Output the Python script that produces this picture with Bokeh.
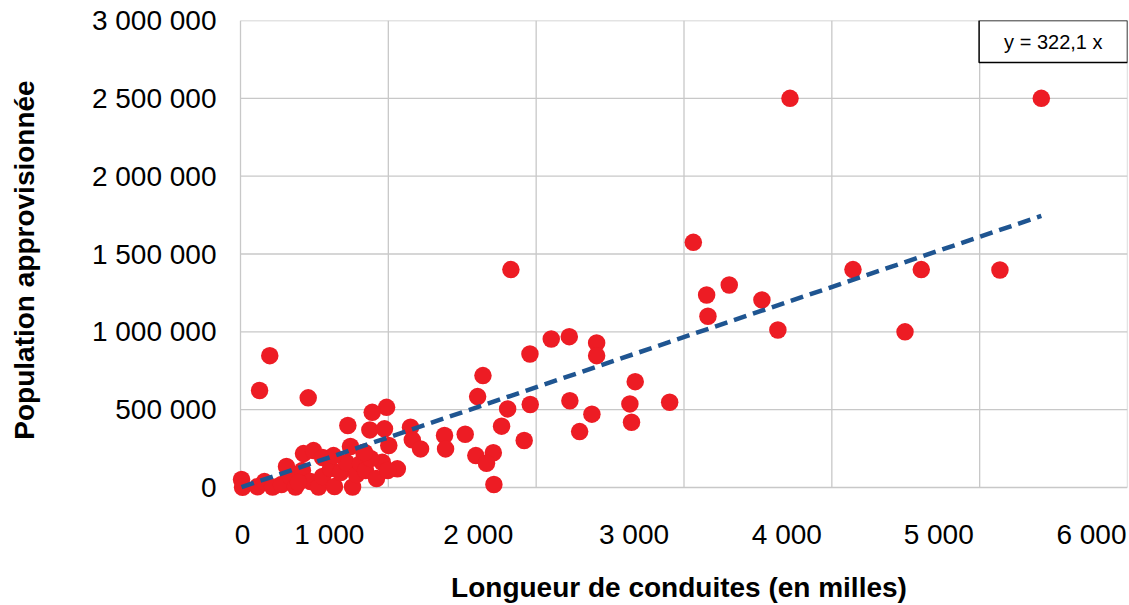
from bokeh.embed import file_html
from bokeh.models import FixedTicker, Label, Range1d
from bokeh.plotting import figure
from bokeh.resources import INLINE

# Water utilities: length of the pipe network (miles) against population served
pipe_length = [
    3063, 3717, 5417, 3153, 3306, 3162, 3527, 3635, 4143, 4605, 4495, 5137,
    1829, 2102, 2224, 2409, 2409, 1958, 1640, 1604, 1807, 1960, 2228, 2377,
    2634, 2670, 2903, 2645, 2294, 1380, 1387, 1520, 1766, 1919, 1592, 1710,
    1664, 1714, 198, 129, 458, 988, 891, 726, 875, 974, 1150, 1162, 1218,
    959, 1061, 834, 1003,
    7, 14, 115, 162, 217, 277, 338, 372, 419, 426, 474, 494, 528, 555, 555,
    609, 636, 677, 717, 744, 758, 785, 812, 846, 880, 920, 995, 839, 629,
    311, 392,
]
population = [
    1575000, 2500000, 2500000, 1237000, 1301000, 1100000, 1205000, 1012000,
    1400000, 1400000, 1000000, 1397000,
    1400000, 954000, 969000, 929000, 847000, 858000, 719000, 584000, 505000,
    533000, 557000, 471000, 537000, 680000, 548000, 419000, 359000, 334000,
    248000, 342000, 394000, 302000, 205000, 223000, 156000, 19000, 847000,
    623000, 576000, 515000, 483000, 398000, 370000, 377000, 387000, 306000,
    248000, 162000, 120000, 227000, 270000,
    51000, 2000, 5000, 38000, 3000, 19000, 71000, 3000, 109000, 218000,
    38000, 237000, 3000, 193000, 71000, 122000, 6000, 96000, 160000, 263000,
    3000, 83000, 154000, 109000, 186000, 58000, 109000, 225000, 205000,
    135000, 32000,
]

slope = 322.1
equation_text = "y = 322,1 x"
x_ticks = [0, 1000, 2000, 3000, 4000, 5000, 6000]
y_ticks = [0, 500000, 1000000, 1500000, 2000000, 2500000, 3000000]
x_title = "Longueur de conduites (en milles)"
y_title = "Population approvisionnée"

# horizontal nudge (px) of each distance label relative to its grid line
x_label_nudge = [2, -59, -58, -50, -45, -41, -36]

FONT = "Liberation Sans"
RED = "#ed1c24"
BLUE = "#1f5591"
GRID = "#c8c8c8"

PLOT_W, PLOT_H = 1129, 605
BORDER_L, BORDER_R, BORDER_T, BORDER_B = 230, 2, 20, 106
X_PAD_PX, Y_PAD_PX = 10, 12  # room for markers spilling past the zero lines


def spaced(v):
    return f"{int(v):,}".replace(",", " ")


frame_w = PLOT_W - BORDER_L - BORDER_R
frame_h = PLOT_H - BORDER_T - BORDER_B
x_per_px = (x_ticks[-1] - x_ticks[0]) / (frame_w - X_PAD_PX)
y_per_px = (y_ticks[-1] - y_ticks[0]) / (frame_h - Y_PAD_PX)

p = figure(
    width=PLOT_W,
    height=PLOT_H,
    output_backend="svg",
    toolbar_location=None,
    x_range=Range1d(x_ticks[0] - X_PAD_PX * x_per_px, x_ticks[-1]),
    y_range=Range1d(y_ticks[0] - Y_PAD_PX * y_per_px, y_ticks[-1]),
    min_border_left=BORDER_L,
    min_border_right=BORDER_R,
    min_border_top=BORDER_T,
    min_border_bottom=BORDER_B,
)
p.outline_line_color = None
p.background_fill_color = "white"
p.border_fill_color = "white"
p.grid.visible = False

# distance labels sit slightly left of their grid lines
x_label_pos = [round(v + n * x_per_px) for v, n in zip(x_ticks, x_label_nudge)]
xax = p.xaxis[0]
xax.ticker = FixedTicker(ticks=x_label_pos)
xax.major_label_overrides = {pos: spaced(v) for pos, v in zip(x_label_pos, x_ticks)}
xax.major_label_standoff = 13
xax.axis_label = x_title
xax.axis_label_standoff = 19

yax = p.yaxis[0]
yax.ticker = FixedTicker(ticks=y_ticks)
yax.major_label_overrides = {v: spaced(v) for v in y_ticks}
yax.major_label_standoff = 8
yax.axis_label = y_title
yax.axis_label_standoff = 49

for ax in (xax, yax):
    ax.axis_line_color = None
    ax.major_tick_line_color = None
    ax.minor_tick_line_color = None
    ax.major_label_text_font = FONT
    ax.major_label_text_font_size = "28px"
    ax.major_label_text_color = "black"
    ax.axis_label_text_font = FONT
    ax.axis_label_text_font_size = "28px"
    ax.axis_label_text_font_style = "bold"
    ax.axis_label_text_color = "black"

# grid lines bounded to the tick span, so markers may spill past the zero lines
p.segment(x0=x_ticks, x1=x_ticks, y0=y_ticks[0], y1=y_ticks[-1],
          line_color=GRID, line_width=1.3)
p.segment(x0=x_ticks[0], x1=x_ticks[-1], y0=y_ticks, y1=y_ticks,
          line_color=GRID, line_width=1.3)

p.scatter(pipe_length, population, size=17.5, fill_color=RED, line_color=None)

trend_x = [min(pipe_length), max(pipe_length)]
trend_y = [slope * v for v in trend_x]
p.line(trend_x, trend_y, line_color=BLUE, line_width=4.5, line_dash="13 7")

p.add_layout(Label(
    x=x_ticks[-1], y=y_ticks[-1], text=equation_text, anchor="top_right",
    text_font=FONT, text_font_size="20px", text_color="black",
    background_fill_color="white", border_line_color="black",
    border_line_width=1.5, padding=(25, 10),
))

open("out.html", "w").write(file_html(p, INLINE))
